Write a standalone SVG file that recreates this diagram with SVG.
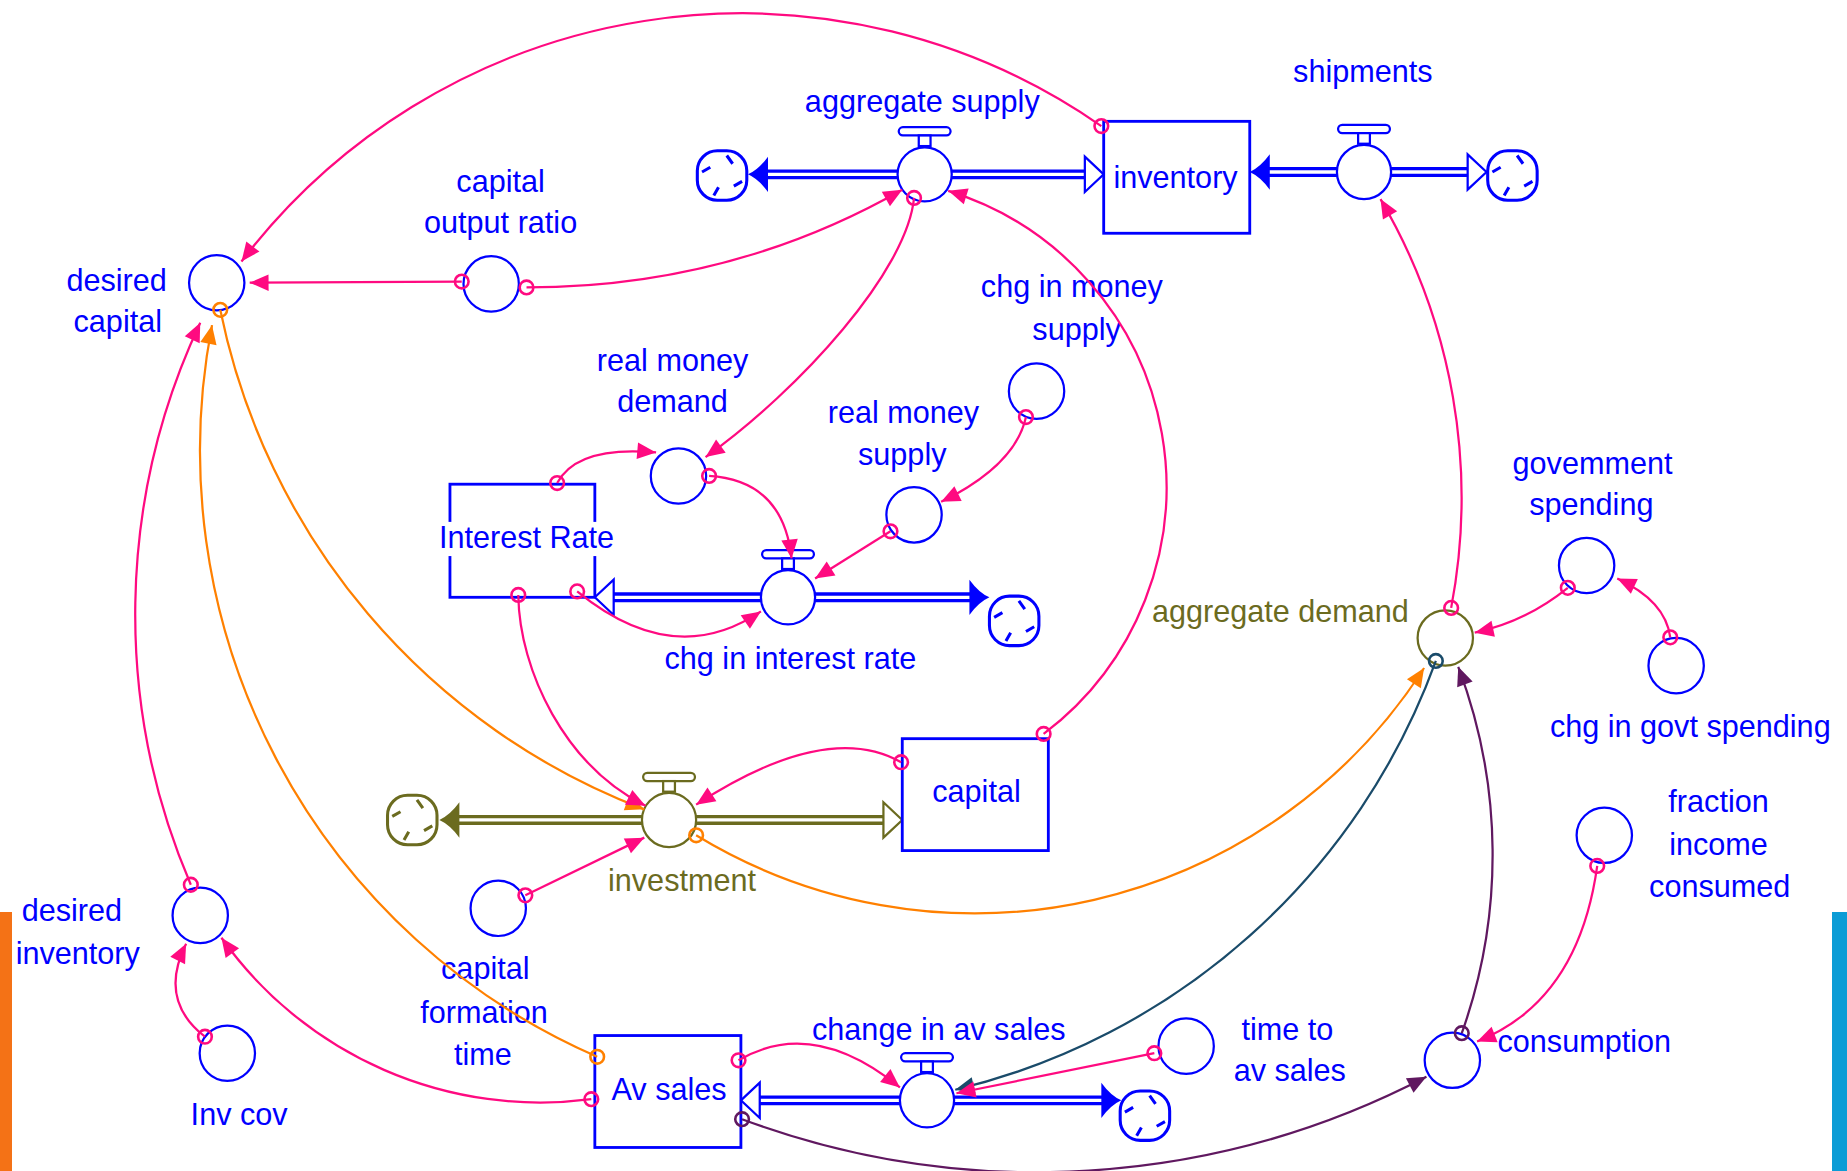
<svg xmlns="http://www.w3.org/2000/svg" width="1847" height="1171" viewBox="0 0 1847 1171">
<style>
.t{font-family:"Liberation Sans",Arial,sans-serif;font-size:26px;fill:#0000ff;text-anchor:middle}
.t.ol{fill:#6b6b1f}
.aux{fill:#fff;stroke:#0000ff;stroke-width:1.9}
.aux.ol{stroke:#6b6b1f}
.box{fill:#fff;stroke:#0000ff;stroke-width:2.4}
.po{fill:none;stroke:currentColor;stroke-width:8.4}
.pi{fill:none;stroke:#fff;stroke-width:2.8}
.lk{fill:none;stroke-width:1.9}
.pk{stroke:#ff0a80;marker-start:url(#o-pk);marker-end:url(#a-pk)}
.or{stroke:#ff8000;marker-start:url(#o-or);marker-end:url(#a-or)}
.tl{stroke:#1a4b6a;marker-start:url(#o-tl);marker-end:url(#a-tl)}
.pu{stroke:#601860;marker-start:url(#o-pu);marker-end:url(#a-pu)}
.blue{color:#0000ff}
.olv{color:#6b6b1f}
</style>
<defs>
  <!-- link arrowheads (tip at path end) -->
  <marker id="a-pk" markerUnits="userSpaceOnUse" viewBox="-18 -9 20 18" markerWidth="20" markerHeight="18" refX="0" refY="0" orient="auto"><path d="M0,0 L-16,-7 L-16,7 Z" fill="#ff0a80"/></marker>
  <marker id="a-or" markerUnits="userSpaceOnUse" viewBox="-18 -9 20 18" markerWidth="20" markerHeight="18" refX="0" refY="0" orient="auto"><path d="M0,0 L-16,-7 L-16,7 Z" fill="#ff8000"/></marker>
  <marker id="a-tl" markerUnits="userSpaceOnUse" viewBox="-18 -9 20 18" markerWidth="20" markerHeight="18" refX="0" refY="0" orient="auto"><path d="M0,0 L-16,-7 L-16,7 Z" fill="#1a4b6a"/></marker>
  <marker id="a-pu" markerUnits="userSpaceOnUse" viewBox="-18 -9 20 18" markerWidth="20" markerHeight="18" refX="0" refY="0" orient="auto"><path d="M0,0 L-16,-7 L-16,7 Z" fill="#601860"/></marker>
  <!-- link origin rings -->
  <marker id="o-pk" markerUnits="userSpaceOnUse" viewBox="-9 -9 18 18" markerWidth="18" markerHeight="18" refX="0" refY="0"><circle r="5.8" fill="none" stroke="#ff0a80" stroke-width="2.2"/></marker>
  <marker id="o-or" markerUnits="userSpaceOnUse" viewBox="-9 -9 18 18" markerWidth="18" markerHeight="18" refX="0" refY="0"><circle r="5.8" fill="none" stroke="#ff8000" stroke-width="2.2"/></marker>
  <marker id="o-tl" markerUnits="userSpaceOnUse" viewBox="-9 -9 18 18" markerWidth="18" markerHeight="18" refX="0" refY="0"><circle r="5.8" fill="none" stroke="#1a4b6a" stroke-width="2.2"/></marker>
  <marker id="o-pu" markerUnits="userSpaceOnUse" viewBox="-9 -9 18 18" markerWidth="18" markerHeight="18" refX="0" refY="0"><circle r="5.8" fill="none" stroke="#601860" stroke-width="2.2"/></marker>
  <!-- flow valve: handle bar, stem, body -->
  <g id="valve">
    <rect x="-22" y="-40" width="44" height="7" rx="3.5" fill="#fff" stroke="currentColor" stroke-width="1.9"/>
    <rect x="-5" y="-33" width="10" height="9" fill="#fff" stroke="currentColor" stroke-width="1.9"/>
    <circle r="23" fill="#fff" stroke="currentColor" stroke-width="1.9"/>
  </g>
  <!-- source / sink cloud -->
  <g id="cloud">
    <rect x="-21" y="-21" width="42" height="42" rx="17" fill="#fff" stroke="currentColor" stroke-width="2.6"/>
    <path d="M4,-17 L9,-10 M-17,-3 L-10,-7 M17,5 L10,9 M-7,17 L-3,10" fill="none" stroke="currentColor" stroke-width="2.6"/>
  </g>
  <!-- pipe arrowheads, pointing left with tip at origin -->
  <path id="fa" d="M0,0 Q9,-4 17,-15 L17,15 Q9,4 0,0 Z" fill="currentColor"/>
  <path id="ha" d="M0,0 L16,-15 L16,15 Z" fill="#fff" stroke="currentColor" stroke-width="1.9"/>
</defs>

<rect width="1847" height="1171" fill="#fff"/>

<g transform="scale(1.1779 1.1781)">

  <!-- flows -->
  <g id="flow-aggregate-supply" class="blue">
    <use href="#cloud" transform="translate(613,149)"/>
    <path class="po" d="M650,148H922"/><path class="pi" d="M650,148H922"/>
    <use href="#fa" transform="translate(635,148)"/>
    <use href="#ha" transform="translate(937,148) scale(-1,1)"/>
    <use href="#valve" transform="translate(785,148)"/>
    <text class="t" x="783" y="95">aggregate supply</text>
  </g>
  <g id="flow-shipments" class="blue">
    <path class="po" d="M1074,146H1247"/><path class="pi" d="M1074,146H1247"/>
    <use href="#fa" transform="translate(1061,146)"/>
    <use href="#ha" transform="translate(1262,146) scale(-1,1)"/>
    <use href="#cloud" transform="translate(1284,149)"/>
    <use href="#valve" transform="translate(1158,146)"/>
    <text class="t" x="1157" y="70">shipments</text>
  </g>
  <g id="flow-chg-in-interest-rate" class="blue">
    <path class="po" d="M520,507H825"/><path class="pi" d="M520,507H825"/>
    <use href="#ha" transform="translate(505,507)"/>
    <use href="#fa" transform="translate(840,507) scale(-1,1)"/>
    <use href="#cloud" transform="translate(861,527)"/>
    <use href="#valve" transform="translate(669,507)"/>
    <text class="t" x="671" y="568">chg in interest rate</text>
  </g>
  <g id="flow-investment" class="olv">
    <use href="#cloud" transform="translate(350,696)"/>
    <path class="po" d="M388,696H751"/><path class="pi" d="M388,696H751"/>
    <use href="#fa" transform="translate(373,696)"/>
    <use href="#ha" transform="translate(766,696) scale(-1,1)"/>
    <use href="#valve" transform="translate(568,696)"/>
    <text class="t ol" x="579" y="756">investment</text>
  </g>
  <g id="flow-change-in-av-sales" class="blue">
    <path class="po" d="M644,934H937"/><path class="pi" d="M644,934H937"/>
    <use href="#ha" transform="translate(629,934)"/>
    <use href="#fa" transform="translate(952,934) scale(-1,1)"/>
    <use href="#cloud" transform="translate(972,947)"/>
    <use href="#valve" transform="translate(787,934)"/>
    <text class="t" x="797" y="883">change in av sales</text>
  </g>

  <!-- stocks -->
  <g id="inventory">
    <rect class="box" x="937" y="103" width="124" height="95"/>
    <text class="t" x="998" y="160">inventory</text>
  </g>
  <g id="interest-rate">
    <rect class="box" x="382" y="411" width="123" height="96"/>
    <rect x="371" y="443" width="153" height="29" fill="#fff"/>
    <text class="t" x="447" y="465">Interest Rate</text>
  </g>
  <g id="capital">
    <rect class="box" x="766" y="627" width="124" height="95"/>
    <text class="t" x="829" y="681">capital</text>
  </g>
  <g id="av-sales">
    <rect class="box" x="505" y="879" width="124" height="95"/>
    <text class="t" x="568" y="934">Av sales</text>
  </g>

  <!-- auxiliaries -->
  <g id="desired-capital">
    <circle class="aux" cx="184" cy="240" r="23.5"/>
    <text class="t" x="99" y="247">desired</text>
    <text class="t" x="100" y="282">capital</text>
  </g>
  <g id="capital-output-ratio">
    <circle class="aux" cx="417" cy="241" r="23.5"/>
    <text class="t" x="425" y="163">capital</text>
    <text class="t" x="425" y="198">output ratio</text>
  </g>
  <g id="real-money-demand">
    <circle class="aux" cx="576" cy="404" r="23.5"/>
    <text class="t" x="571" y="315">real money</text>
    <text class="t" x="571" y="350">demand</text>
  </g>
  <g id="real-money-supply">
    <circle class="aux" cx="776" cy="437" r="23.5"/>
    <text class="t" x="767" y="359">real money</text>
    <text class="t" x="766" y="395">supply</text>
  </g>
  <g id="chg-in-money-supply">
    <circle class="aux" cx="880" cy="332" r="23.5"/>
    <text class="t" x="910" y="252">chg in money</text>
    <text class="t" x="914" y="289">supply</text>
  </g>
  <g id="capital-formation-time">
    <circle class="aux" cx="423" cy="771" r="23.5"/>
    <text class="t" x="412" y="831">capital</text>
    <text class="t" x="411" y="868">formation</text>
    <text class="t" x="410" y="904">time</text>
  </g>
  <g id="desired-inventory">
    <circle class="aux" cx="170" cy="777" r="23.5"/>
    <text class="t" x="61" y="782">desired</text>
    <text class="t" x="66" y="818">inventory</text>
  </g>
  <g id="inv-cov">
    <circle class="aux" cx="193" cy="894" r="23.5"/>
    <text class="t" x="203" y="955">Inv cov</text>
  </g>
  <g id="time-to-av-sales">
    <circle class="aux" cx="1007" cy="888" r="23.5"/>
    <text class="t" x="1093" y="883">time to</text>
    <text class="t" x="1095" y="918">av sales</text>
  </g>
  <g id="aggregate-demand">
    <circle class="aux ol" cx="1227" cy="541.5" r="23.5"/>
    <text class="t ol" x="1087" y="528">aggregate demand</text>
  </g>
  <g id="government-spending">
    <circle class="aux" cx="1347" cy="480" r="23.5"/>
    <text class="t" x="1352" y="402">govemment</text>
    <text class="t" x="1351" y="437">spending</text>
  </g>
  <g id="chg-in-govt-spending">
    <circle class="aux" cx="1423" cy="565" r="23.5"/>
    <text class="t" x="1435" y="626">chg in govt spending</text>
  </g>
  <g id="fraction-income-consumed">
    <circle class="aux" cx="1362" cy="709" r="23.5"/>
    <text class="t" x="1459" y="689">fraction</text>
    <text class="t" x="1459" y="726">income</text>
    <text class="t" x="1460" y="761">consumed</text>
  </g>
  <g id="consumption">
    <circle class="aux" cx="1233" cy="900" r="23.5"/>
    <text class="t" x="1345" y="893">consumption</text>
  </g>

  <!-- connectors -->
  <g id="links">
    <path class="lk or" d="M187,263 A577,577 0 0 0 547,687"/>
    <path class="lk or" d="M507,897 A561,561 0 0 1 180,276"/>
    <path class="lk or" d="M591,709 A454,454 0 0 0 1209,567"/>
    <path class="lk tl" d="M1219,561 A577,577 0 0 1 811,925"/>
    <path class="lk pu" d="M1241,877 A451,451 0 0 0 1238,566"/>
    <path class="lk pu" d="M630,950 A717,717 0 0 0 1211,914"/>

    <path class="lk pk" d="M935,107 A534,534 0 0 0 205,222"/>
    <path class="lk pk" d="M392,239 L212,240"/>
    <path class="lk pk" d="M447,244 Q620,244 766,161"/>
    <path class="lk pk" d="M776,168 C770,230 680,330 599,388"/>
    <path class="lk pk" d="M886,623 A263,263 0 0 0 805,162"/>
    <path class="lk pk" d="M871,354 Q862,395 799,426"/>
    <path class="lk pk" d="M756,451 L692,491"/>
    <path class="lk pk" d="M473,410 Q490,378 557,384"/>
    <path class="lk pk" d="M602,404 Q665,408 672,474"/>
    <path class="lk pk" d="M490,502 Q572,569 646,519"/>
    <path class="lk pk" d="M440,505 C441,570 480,650 548,684"/>
    <path class="lk pk" d="M765,647 Q702,611 591,683"/>
    <path class="lk pk" d="M446,760 L547,711"/>
    <path class="lk pk" d="M1232,516 A501,501 0 0 0 1172,169"/>
    <path class="lk pk" d="M1331,499 Q1295,528 1252,537"/>
    <path class="lk pk" d="M1418,541 Q1414,510 1373,491"/>
    <path class="lk pk" d="M1356,735 Q1340,850 1254,884"/>
    <path class="lk pk" d="M627,900 Q690,863 764,923"/>
    <path class="lk pk" d="M980,894 L812,928"/>
    <path class="lk pk" d="M502,933 A332,332 0 0 1 188,796"/>
    <path class="lk pk" d="M162,751 A582,582 0 0 1 170,274"/>
    <path class="lk pk" d="M174,880 Q134,849 158,801"/>
  </g>
</g>

<!-- edge bars -->
<rect x="0" y="912" width="12" height="259" fill="#f47216"/>
<rect x="1832" y="912" width="15" height="259" fill="#0b9cd6"/>
</svg>
